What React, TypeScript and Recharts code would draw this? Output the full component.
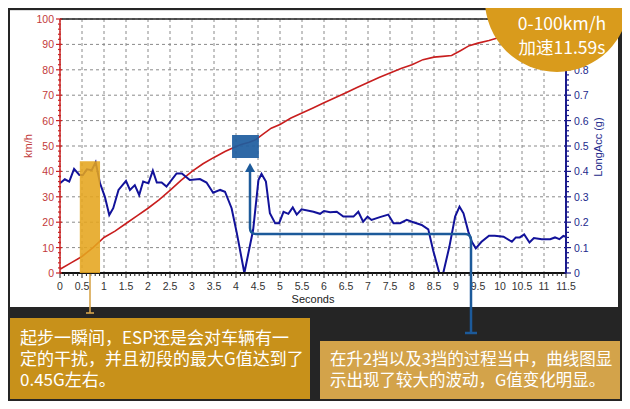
import { LineChart, Line, XAxis, YAxis, CartesianGrid, ReferenceArea, ReferenceLine } from 'recharts';

// speed curve (km/h)
const speedTime = [0, 0.25, 0.5, 0.75, 1, 1.25, 1.5, 1.75, 2, 2.25, 2.5, 2.75, 3, 3.25, 3.5, 3.75, 3.9, 4.1, 4.3, 4.45, 4.6, 4.8, 5, 5.25, 5.5, 5.75, 6, 6.25, 6.5, 6.75, 7, 7.25, 7.5, 7.75, 8, 8.25, 8.5, 8.7, 8.9, 9.1, 9.3, 9.5, 9.75, 10, 10.25, 10.5, 10.75, 11, 11.25, 11.5];
const speedKmh = [1.5, 4, 6.5, 10, 14, 16.5, 19.5, 22.5, 25.5, 28.8, 32.5, 36.5, 40, 43, 45.5, 47.8, 49, 50.5, 51.5, 52.5, 54.5, 57, 58.5, 61, 63, 65, 67, 69, 71, 73, 75, 77, 78.7, 80.5, 82, 84, 85, 85.3, 85.6, 87.5, 89.5, 90.5, 91.5, 92.8, 94, 95.2, 96.3, 97.4, 98.5, 99.5];

// longitudinal acceleration (g)
const accTime = [0, 0.11, 0.21, 0.32, 0.44, 0.52, 0.61, 0.72, 0.81, 0.91, 1.02, 1.12, 1.21, 1.33, 1.5, 1.59, 1.7, 1.8, 1.89, 2.01, 2.11, 2.2, 2.31, 2.42, 2.65, 2.77, 2.95, 3.18, 3.33, 3.48, 3.64, 3.75, 3.9, 4.02, 4.19, 4.39, 4.51, 4.58, 4.68, 4.77, 4.89, 4.98, 5.08, 5.19, 5.29, 5.38, 5.49, 5.76, 5.91, 6, 6.14, 6.29, 6.44, 6.67, 6.78, 6.89, 6.99, 7.08, 7.27, 7.46, 7.58, 7.73, 7.88, 8.03, 8.22, 8.37, 8.48, 8.62, 8.71, 8.85, 8.98, 9.08, 9.17, 9.28, 9.36, 9.45, 9.58, 9.75, 9.88, 10.08, 10.27, 10.36, 10.45, 10.55, 10.67, 10.77, 10.95, 11.14, 11.25, 11.35, 11.44, 11.5];
const accG = [0.353, 0.369, 0.36, 0.41, 0.386, 0.386, 0.408, 0.405, 0.436, 0.353, 0.3, 0.228, 0.255, 0.327, 0.363, 0.327, 0.346, 0.307, 0.36, 0.353, 0.403, 0.356, 0.356, 0.34, 0.392, 0.392, 0.366, 0.37, 0.356, 0.316, 0.327, 0.32, 0.255, 0.156, 0, 0.17, 0.366, 0.39, 0.36, 0.235, 0.196, 0.196, 0.241, 0.233, 0.258, 0.23, 0.251, 0.241, 0.233, 0.244, 0.239, 0.241, 0.222, 0.222, 0.241, 0.202, 0.222, 0.209, 0.22, 0.23, 0.196, 0.196, 0.209, 0.2, 0.189, 0.172, 0.09, 0, 0, 0.104, 0.222, 0.261, 0.235, 0.163, 0.123, 0.097, 0.123, 0.147, 0.147, 0.143, 0.123, 0.14, 0.14, 0.152, 0.12, 0.138, 0.133, 0.133, 0.14, 0.133, 0.146, 0.143];

const xMajorTicks = [0, 0.5, 1, 1.5, 2, 2.5, 3, 3.5, 4, 4.5, 5, 5.5, 6, 6.5, 7, 7.5, 8, 8.5, 9, 9.5, 10, 10.5, 11, 11.5];
const kmhTicks = [0, 10, 20, 30, 40, 50, 60, 70, 80, 90, 100];
const gTicks = [0, 0.1, 0.2, 0.3, 0.4, 0.5, 0.6, 0.7, 0.8, 0.9, 1];
// these two sit under the badge in the picture, so no label is drawn
const gCovered = [0.9, 1];

// highlighted spans
const launchSpan = { t1: 0.45, t2: 0.91, top: 44 };
const shiftSpan = { t1: 3.91, t2: 4.52, low: 45.3, high: 54.3 };

const speedData = speedTime.map((t, i) => ({ t, v: speedKmh[i] }));
const accData = accTime.map((t, i) => ({ t, g: accG[i] }));

// minor tick marks between the labelled ones
const subdivide = (majors: number[], n: number) => {
  const out: number[] = [];
  for (let i = 0; i < majors.length - 1; i++) {
    const step = (majors[i + 1] - majors[i]) / n;
    for (let k = 0; k < n; k++) out.push(Math.round((majors[i] + step * k) * 1000) / 1000);
  }
  out.push(majors[majors.length - 1]);
  return out;
};

const isIn = (v: number, list: number[]) => list.some(m => Math.abs(m - v) < 1e-6);

const tickFont = '"Liberation Sans", Arial, sans-serif';

const XTick = (props: any) => {
  const { x, y, payload } = props;
  const major = isIn(payload.value, xMajorTicks);
  return (
    <g>
      <line x1={x} y1={y} x2={x} y2={y + (major ? 5 : 3)} stroke="#222" strokeWidth={1} />
      {major && (
        <text x={x} y={y + 17} textAnchor="middle" fontSize={10.5} fill="#333" fontFamily={tickFont}>
          {String(payload.value)}
        </text>
      )}
    </g>
  );
};

const LeftTick = (props: any) => {
  const { x, y, payload } = props;
  const major = isIn(payload.value, kmhTicks);
  return (
    <g>
      <line x1={x - (major ? 4 : 2)} y1={y} x2={x + (major ? 2 : 1)} y2={y} stroke="#cc2424" strokeWidth={1.2} />
      {major && (
        <text x={x - 6} y={y + 4} textAnchor="end" fontSize={10.5} fill="#c23a3a" fontFamily={tickFont}>
          {String(payload.value)}
        </text>
      )}
    </g>
  );
};

const RightTick = (props: any) => {
  const { x, y, payload } = props;
  const major = isIn(payload.value, gTicks);
  return (
    <g>
      <line x1={x - (major ? 2 : 1)} y1={y} x2={x + (major ? 5 : 3)} y2={y} stroke="#1a1a8c" strokeWidth={1.2} />
      {major && !isIn(payload.value, gCovered) && (
        <text x={x + 8} y={y + 4} textAnchor="start" fontSize={10.5} fill="#1c2a8c" fontFamily={tickFont}>
          {String(payload.value)}
        </text>
      )}
    </g>
  );
};

const cjk = '"Noto Sans CJK SC", "Noto Sans", sans-serif';

export default function App() {
  return (
    <div style={{ position: 'relative', width: 630, height: 409, margin: -8, background: '#252525', overflow: 'hidden', fontFamily: cjk }}>
      <div style={{ position: 'absolute', left: 10, top: 10, width: 608, height: 296, background: '#fff', borderTop: '1px solid #ddd' }} />

      <div style={{ position: 'absolute', left: 0, top: 0 }}>
        <LineChart width={630} height={306} margin={{ top: 19, right: 24, left: 20, bottom: 3 }}>
          <CartesianGrid
            yAxisId="kmh"
            strokeDasharray="3 3"
            stroke="#8a8a8a"
            horizontalValues={kmhTicks}
            verticalValues={xMajorTicks}
          />
          <XAxis
            dataKey="t"
            type="number"
            domain={[0, 11.5]}
            ticks={subdivide(xMajorTicks, 5)}
            interval={0}
            tick={<XTick />}
            tickLine={false}
            tickSize={0}
            tickMargin={0}
            height={30}
            axisLine={{ stroke: '#111', strokeWidth: 2 }}
            allowDataOverflow
            label={{ value: 'Seconds', position: 'insideBottom', offset: 0, fontSize: 11, fill: '#222', fontFamily: tickFont }}
          />
          <YAxis
            yAxisId="kmh"
            orientation="left"
            domain={[0, 100]}
            ticks={subdivide(kmhTicks, 5)}
            interval={0}
            tick={<LeftTick />}
            tickLine={false}
            tickSize={0}
            tickMargin={0}
            width={40}
            axisLine={{ stroke: '#cc2424', strokeWidth: 1.5 }}
          />
          <YAxis
            yAxisId="g"
            orientation="right"
            domain={[0, 1]}
            ticks={subdivide(gTicks, 5)}
            interval={0}
            tick={<RightTick />}
            tickLine={false}
            tickSize={0}
            tickMargin={0}
            width={40}
            axisLine={{ stroke: '#1a1a8c', strokeWidth: 2 }}
          />
          <ReferenceLine yAxisId="kmh" y={100} stroke="#222" strokeWidth={1.5} />
          <Line
            data={speedData}
            dataKey="v"
            yAxisId="kmh"
            type="linear"
            stroke="#c81e1e"
            strokeWidth={1.6}
            dot={false}
            isAnimationActive={false}
          />
          <Line
            data={accData}
            dataKey="g"
            yAxisId="g"
            type="linear"
            stroke="#12129a"
            strokeWidth={2}
            dot={false}
            isAnimationActive={false}
          />
          <ReferenceArea
            yAxisId="kmh"
            x1={launchSpan.t1}
            x2={launchSpan.t2}
            y1={0}
            y2={launchSpan.top}
            fill="#e5a51e"
            fillOpacity={0.88}
            stroke="none"
            {...({ zIndex: 1500 } as any)}
          />
          <ReferenceArea
            yAxisId="kmh"
            x1={shiftSpan.t1}
            x2={shiftSpan.t2}
            y1={shiftSpan.low}
            y2={shiftSpan.high}
            fill="#1d5c9e"
            fillOpacity={0.92}
            stroke="none"
            {...({ zIndex: 1500 } as any)}
          />
        </LineChart>
      </div>

      {/* axis titles */}
      <div style={{ position: 'absolute', left: 28, top: 146, transform: 'translate(-50%, -50%) rotate(-90deg)', fontSize: 11, color: '#c23a3a', fontFamily: tickFont, whiteSpace: 'nowrap' }}>
        km/h
      </div>
      <div style={{ position: 'absolute', left: 598, top: 147, transform: 'translate(-50%, -50%) rotate(-90deg)', fontSize: 11, color: '#1c2a8c', fontFamily: tickFont, whiteSpace: 'nowrap' }}>
        LongAcc (g)
      </div>

      {/* callout connectors */}
      <svg width={630} height={409} style={{ position: 'absolute', left: 0, top: 0, pointerEvents: 'none' }}>
        <path d="M90 274 L90 313" stroke="#d7a54c" strokeWidth={1.6} fill="none" />
        <path d="M86 313 L94 313" stroke="#d7a54c" strokeWidth={1.6} />
        <path d="M471 333 L471 240 Q471 234 465 234 L256 234 Q250 234 250 228 L250 171" stroke="#1c5a9a" strokeWidth={2.5} fill="none" />
        <polygon points="250,163 245,172 255,172" fill="#1c5a9a" />
        <path d="M465 333 L477 333" stroke="#1c5a9a" strokeWidth={2.5} />
      </svg>

      {/* badge */}
      <div style={{ position: 'absolute', left: 485, top: -72, width: 144, height: 144, borderRadius: '50%', background: '#d99b1c' }} />
      <div style={{ position: 'absolute', left: 500, top: 11, width: 124, textAlign: 'center', color: '#fff', fontSize: 17.5, lineHeight: '24px', whiteSpace: 'nowrap' }}>
        <div>0-100km/h</div>
        <div>加速11.59s</div>
      </div>

      {/* notes */}
      <div style={{ position: 'absolute', left: 10, top: 318, width: 300, height: 81, background: '#c8911a', color: '#fff', fontSize: 17, lineHeight: '21px', padding: '8px 0 0 10px', boxSizing: 'border-box', whiteSpace: 'nowrap' }}>
        <div>起步一瞬间，ESP还是会对车辆有一</div>
        <div>定的干扰，并且初段的最大G值达到了</div>
        <div>0.45G左右。</div>
      </div>
      <div style={{ position: 'absolute', left: 320, top: 341, width: 300, height: 58, background: '#d3a34a', color: '#fff', fontSize: 16.5, lineHeight: '21px', padding: '7px 0 0 10px', boxSizing: 'border-box', whiteSpace: 'nowrap' }}>
        <div>在升2挡以及3挡的过程当中，曲线图显</div>
        <div>示出现了较大的波动，G值变化明显。</div>
      </div>
    </div>
  );
}
